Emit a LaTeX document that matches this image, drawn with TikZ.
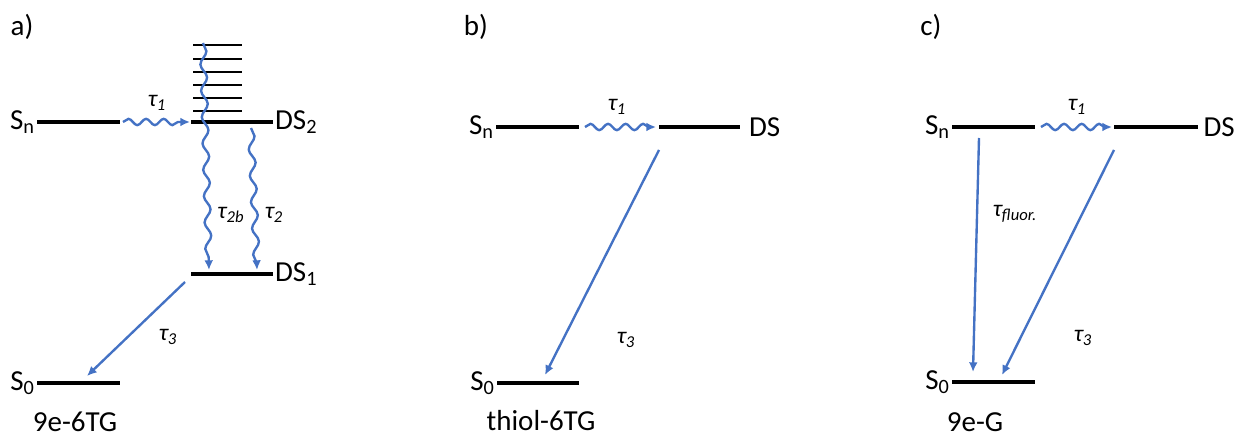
\documentclass[tikz,border=0pt]{standalone}
\usepackage{fontspec}
\setmainfont{Carlito}
\usepackage{tikz}
\usetikzlibrary{arrows.meta, decorations.pathmorphing}
\usepackage{xcolor}
\definecolor{decayblue}{RGB}{68,114,196}

\tikzset{
  level/.style={line width=2.6pt},
  vibline/.style={line width=1.5pt},
  lbl/.style={font=\fontsize{16.5}{18}\selectfont, inner sep=1pt},
  taulbl/.style={font=\fontsize{13.5}{15}\selectfont\itshape, inner sep=1pt},
  decay/.style={decayblue, line width=1.35pt, -{Latex[length=5.5pt,width=5pt]}},
  wavyh/.style={decay, decorate, decoration={snake, amplitude=1.8pt, segment length=10pt, post length=3pt}},
  wavyv/.style={decay, decorate, decoration={snake, amplitude=1.8pt, segment length=15pt, post length=3pt}},
}

\begin{document}
\begin{tikzpicture}[x=0.02cm, y=-0.02cm]
  \useasboundingbox (0,0) rectangle (1235,438);

  % a) 9e-6TG
  \node[lbl] (tagA) at (22,27) {a)};
  \coordinate (aSn) at (37,122);   \coordinate (aSnR) at (120,122);
  \coordinate (aDS2) at (191,122); \coordinate (aDS2R) at (273,122);
  \coordinate (aDS1) at (191,274); \coordinate (aDS1R) at (273,274);
  \coordinate (aS0) at (37,383);   \coordinate (aS0R) at (120,383);
  \draw[level] (aSn) -- (aSnR);
  \draw[level] (aDS2) -- (aDS2R);
  \draw[level] (aDS1) -- (aDS1R);
  \draw[level] (aS0) -- (aS0R);
  \foreach \y in {45,59,72,85,98,111}
    \draw[vibline] (193,\y) -- (242,\y);
  \node[lbl, anchor=east] (aSnLbl) at (aSn) {S\textsubscript{n}};
  \node[lbl, anchor=west] (aDS2Lbl) at (aDS2R) {DS\textsubscript{2}};
  \node[lbl, anchor=west] (aDS1Lbl) at (aDS1R) {DS\textsubscript{1}};
  \node[lbl, anchor=east] (aS0Lbl) at (aS0) {S\textsubscript{0}};
  \node[lbl] (aName) at (75,422) {9e-6TG};

  \coordinate (aW1s) at (123,122); \coordinate (aW1e) at (190,122);
  \coordinate (aW2bs) at (203,43); \coordinate (aW2be) at (209,270);
  \coordinate (aW2s) at (251,128); \coordinate (aW2e) at (257,270);
  \coordinate (aD3s) at (185,282); \coordinate (aD3e) at (87,376);
  \draw[wavyh] (aW1s) -- (aW1e);
  \draw[wavyv] (aW2bs) -- (aW2be);
  \draw[wavyv] (aW2s) -- (aW2e);
  \draw[decay] (aD3s) -- (aD3e);
  \node[taulbl] (aTau1) at (157,103) {τ\textsubscript{1}};
  \node[taulbl] (aTau2b) at (231,215) {τ\textsubscript{2b}};
  \node[taulbl] (aTau2) at (274,215) {τ\textsubscript{2}};
  \node[taulbl] (aTau3) at (168,337) {τ\textsubscript{3}};

  % b) thiol-6TG
  \node[lbl] (tagB) at (476,27) {b)};
  \coordinate (bSn) at (496,127);  \coordinate (bSnR) at (579,127);
  \coordinate (bDS) at (659,127);  \coordinate (bDSR) at (740,127);
  \coordinate (bS0) at (497,383);  \coordinate (bS0R) at (579,383);
  \draw[level] (bSn) -- (bSnR);
  \draw[level] (bDS) -- (bDSR);
  \draw[level] (bS0) -- (bS0R);
  \node[lbl, anchor=east] (bSnLbl) at (bSn) {S\textsubscript{n}};
  \node[lbl, anchor=west, xshift=4] (bDSLbl) at (bDSR) {DS};
  \node[lbl, anchor=east] (bS0Lbl) at (bS0) {S\textsubscript{0}};
  \node[lbl] (bName) at (541,421) {thiol-6TG};

  \coordinate (bW1s) at (585,127); \coordinate (bW1e) at (656,127);
  \coordinate (bD3s) at (659,150); \coordinate (bD3e) at (545,375);
  \draw[wavyh] (bW1s) -- (bW1e);
  \draw[decay] (bD3s) -- (bD3e);
  \node[taulbl] (bTau1) at (617,107) {τ\textsubscript{1}};
  \node[taulbl] (bTau3) at (626,340) {τ\textsubscript{3}};

  % c) 9e-G
  \node[lbl] (tagC) at (931,27) {c)};
  \coordinate (cSn) at (952,127);  \coordinate (cSnR) at (1035,127);
  \coordinate (cDS) at (1114,127); \coordinate (cDSR) at (1198,127);
  \coordinate (cS0) at (952,382);  \coordinate (cS0R) at (1035,382);
  \draw[level] (cSn) -- (cSnR);
  \draw[level] (cDS) -- (cDSR);
  \draw[level] (cS0) -- (cS0R);
  \node[lbl, anchor=east] (cSnLbl) at (cSn) {S\textsubscript{n}};
  \node[lbl, anchor=west, xshift=2] (cDSLbl) at (cDSR) {DS};
  \node[lbl, anchor=east] (cS0Lbl) at (cS0) {S\textsubscript{0}};
  \node[lbl] (cName) at (975,422) {9e-G};

  \coordinate (cW1s) at (1041,127); \coordinate (cW1e) at (1112,127);
  \coordinate (cFs) at (979,138);   \coordinate (cFe) at (973,372);
  \coordinate (cD3s) at (1114,150); \coordinate (cD3e) at (1002,375);
  \draw[wavyh] (cW1s) -- (cW1e);
  \draw[decay] (cFs) -- (cFe);
  \draw[decay] (cD3s) -- (cD3e);
  \node[taulbl] (cTau1) at (1077,107) {τ\textsubscript{1}};
  \node[taulbl] (cTauF) at (1015,214) {τ\textsubscript{fluor.}};
  \node[taulbl] (cTau3) at (1083,338) {τ\textsubscript{3}};
\end{tikzpicture}
\end{document}
